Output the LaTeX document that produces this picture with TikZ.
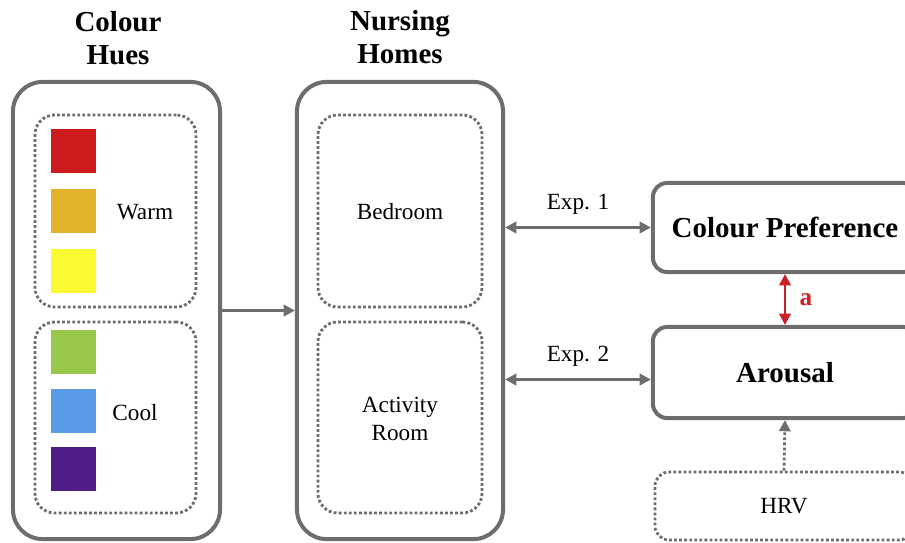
\documentclass[tikz,border=0pt]{standalone}
\usepackage{fontspec}
\setmainfont{Liberation Serif}
\usetikzlibrary{arrows.meta}

\definecolor{boxgray}{HTML}{6D6D6D}
\definecolor{hueRed}{HTML}{CC1A1D}
\definecolor{hueOrange}{HTML}{E2B22A}
\definecolor{hueYellow}{HTML}{FAFA33}
\definecolor{hueGreen}{HTML}{99C84B}
\definecolor{hueBlue}{HTML}{5A9BE6}
\definecolor{huePurple}{HTML}{4F1C88}
\definecolor{linkRed}{HTML}{CC1F26}

\tikzset{
  outerbox/.style={draw=boxgray, line width=2.85pt, rounded corners=21pt, inner sep=0pt},
  groupbox/.style={draw=boxgray, line width=2pt, dash pattern=on 2pt off 1.6pt, rounded corners=14pt, inner sep=0pt},
  varbox/.style={draw=boxgray, line width=2.85pt, rounded corners=10pt, inner sep=0pt,
    font=\fontsize{20.6}{24}\selectfont\bfseries},
  swatch/.style={minimum size=1.1cm, inner sep=0pt},
  lbl/.style={font=\fontsize{16.5}{20}\selectfont},
  head/.style={font=\fontsize{20.6}{23.5}\selectfont\bfseries, align=center},
  link/.style={draw=boxgray, line width=2pt, {Triangle[length=8pt,width=8pt]}-{Triangle[length=8pt,width=8pt]}},
}

\begin{document}
\begin{tikzpicture}[x=0.025cm, y=-0.025cm]
    \useasboundingbox (0,0) rectangle (905,543);
    \clip (0,0) rectangle (905,543);
    % column headings
    \node[head] (huesHead) at (118,38) {Colour\\Hues};
    \node[head] (homesHead) at (400,37) {Nursing\\Homes};
    % colour hues
    \node[outerbox, minimum width=5.175cm, minimum height=11.425cm] (hues) at (116.5,310.5) {};
    \node[groupbox, minimum width=4.025cm, minimum height=4.8cm] (warm) at (115.5,211) {};
    \node[groupbox, minimum width=4.025cm, minimum height=4.775cm] (cool) at (115.5,417.5) {};
    \node[swatch, fill=hueRed] (red) at (73.5,151) {};
    \node[swatch, fill=hueOrange] (orange) at (73.5,211) {};
    \node[swatch, fill=hueYellow] (yellow) at (73.5,271) {};
    \node[swatch, fill=hueGreen] (green) at (73.5,352) {};
    \node[swatch, fill=hueBlue] (blue) at (73.5,411) {};
    \node[swatch, fill=huePurple] (purple) at (73.5,469) {};
    \node[lbl] (warmLbl) at (145,212) {Warm};
    \node[lbl] (coolLbl) at (135,413) {Cool};
    % nursing homes
    \node[outerbox, minimum width=5.15cm, minimum height=11.425cm] (homes) at (400,310.5) {};
    \node[groupbox, minimum width=4.1cm, minimum height=4.8cm] (bed) at (400,211) {};
    \node[groupbox, minimum width=4.1cm, minimum height=4.775cm] (act) at (400,417.5) {};
    \node[lbl] (bedLbl) at (400,212) {Bedroom};
    \node[lbl, align=center] (actLbl) at (400,419) {Activity\\Room};
    % outcomes
    \node[varbox, minimum width=6.6cm, minimum height=2.225cm] (pref) at (785,227.5) {Colour Preference};
    \node[varbox, minimum width=6.6cm, minimum height=2.275cm] (arousal) at (785,372.5) {Arousal};
    \node[groupbox, rounded corners=10pt, minimum width=6.45cm, minimum height=1.7cm, lbl] (hrv) at (784,506) {HRV};
    % connectors
    \draw[draw=boxgray, line width=2pt, -{Triangle[length=8pt,width=8pt]}] (hues.east) -- (homes.west);
    \draw[link] (homes.east |- pref.west) -- (pref.west) node[midway, above=5pt, lbl, text=black] {Exp. 1};
    \draw[link] ([yshift=-5pt]homes.east |- arousal.west) -- ([yshift=-5pt]arousal.west) node[midway, above=5pt, lbl, text=black] {Exp. 2};
    \draw[draw=linkRed, line width=2pt, {Triangle[length=8pt,width=8pt]}-{Triangle[length=8pt,width=8pt]}] (pref.south) -- (arousal.north) node[midway, right=6pt, text=linkRed, font=\fontsize{18}{20}\selectfont\bfseries] {a};
    \draw[draw=boxgray, line width=2pt, dash pattern=on 2pt off 1.6pt, -{Triangle[length=8pt,width=8pt]}] (hrv.north) -- (arousal.south);
\end{tikzpicture}
\end{document}
